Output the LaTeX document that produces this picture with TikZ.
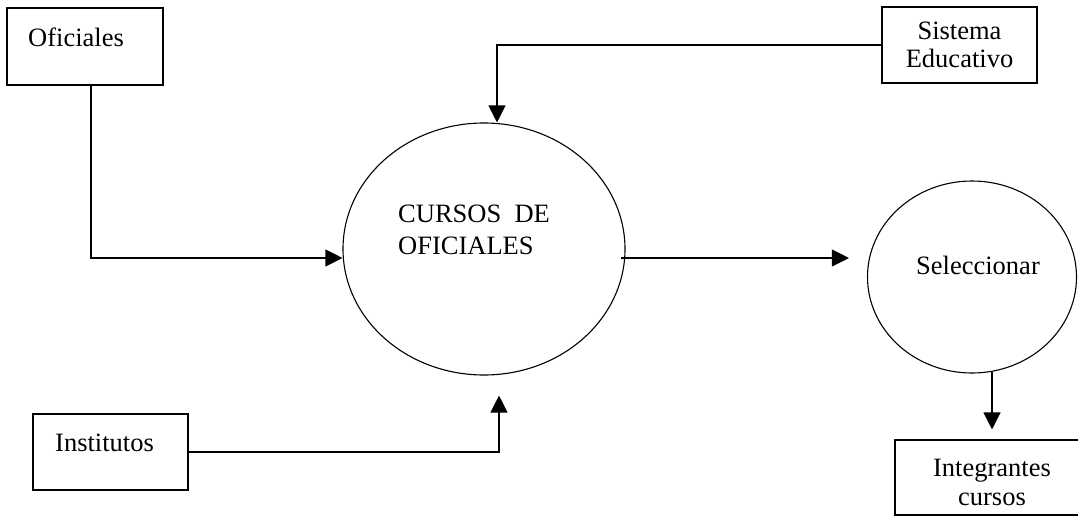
\documentclass[tikz,border=0pt]{standalone}
\usepackage{fontspec}
\setmainfont{Liberation Serif}
\usetikzlibrary{arrows.meta,shapes.geometric}
\begin{document}
\begin{tikzpicture}[x=1pt,y=-1pt,
  every node/.style={font=\fontsize{26.5}{30}\selectfont},
  entity/.style={draw, line width=1.1pt, rectangle, inner sep=0pt, align=center},
  process/.style={draw, line width=1.1pt, ellipse, inner sep=0pt},
  txt/.style={inner sep=0pt, align=left},
  flow/.style={line width=1.1pt, -{Triangle[length=17pt,width=17pt]}}]
\useasboundingbox (0,0) rectangle (1078,517);
\clip (0,0) rectangle (1078,517);
% entities
\node[entity, minimum width=156pt, minimum height=77pt] (ofi) at (85,46.5) {};
\node[txt, anchor=west] (ofit) at (28,37) {Oficiales};
\node[entity, minimum width=155pt, minimum height=76pt] (sis) at (959.5,45) {Sistema\\[-2pt]Educativo};
\node[entity, minimum width=155pt, minimum height=76pt] (ins) at (110.5,452) {};
\node[txt, anchor=west] (inst) at (55,443) {Institutos};
\node[entity, minimum width=200pt, minimum height=75pt] (int) at (995,477.5) {};
\node[txt, align=center] (intt) at (992,482) {Integrantes\\[-1pt]cursos};
% processes
\node[process, minimum width=282pt, minimum height=252pt] (cur) at (484,249) {};
\node[txt, anchor=west] (curt) at (398,230) {CURSOS\ \ DE\\[2pt]OFICIALES};
\node[process, minimum width=209pt, minimum height=192pt] (sel) at (972,277) {};
\node[txt] (selt) at (978,265) {Seleccionar};
% connectors
\coordinate (ofiout) at ([xshift=6pt]ofi.south);
\coordinate (curin) at ([yshift=-9pt]cur.west);
\draw[flow] (ofiout) |- (curin);
\coordinate (curtop) at ([xshift=13pt]cur.north);
\draw[flow] (sis.west) -| (curtop);
\coordinate (curbot) at ([xshift=15pt,yshift=-20pt]cur.south);
\draw[flow] (ins.east) -| (curbot);
\coordinate (curout) at ([xshift=-5pt,yshift=-9pt]cur.east);
\coordinate (selin) at ([xshift=-18pt]sel.west);
\draw[flow] (curout) -- (curout -| selin);
\coordinate (selout) at ([xshift=20pt,yshift=2pt]sel.south);
\coordinate (intin) at ([yshift=10pt]int.north);
\draw[flow] (selout) -- (selout |- intin);
\end{tikzpicture}
\end{document}
